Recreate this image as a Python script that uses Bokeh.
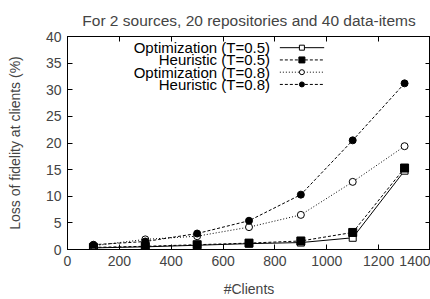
from bokeh.plotting import figure
from bokeh.models import LinearAxis, Range1d, FixedTicker
from bokeh.core.properties import value
from bokeh.embed import file_html
from bokeh.resources import INLINE

# ---- data ----
clients = [100, 300, 500, 700, 900, 1100, 1300]
opt_t05 = [0.3, 0.5, 0.8, 1.1, 1.3, 2.2, 14.8]
heu_t05 = [0.4, 0.6, 0.9, 1.2, 1.6, 3.2, 15.3]
opt_t08 = [0.7, 1.9, 2.5, 4.2, 6.5, 12.7, 19.4]
heu_t08 = [0.9, 1.5, 3.0, 5.4, 10.3, 20.5, 31.2]
series_names = ["Optimization (T=0.5)", "Heuristic (T=0.5)",
                "Optimization (T=0.8)", "Heuristic (T=0.8)"]
x_ticks = [0, 200, 400, 600, 800, 1000, 1200, 1400]
y_ticks = [0, 5, 10, 15, 20, 25, 30, 35, 40]

FONT = "Liberation Sans"

p = figure(width=430, height=299, output_backend="svg", toolbar_location=None,
           x_range=Range1d(0, 1400), y_range=Range1d(0, 40),
           title="For 2 sources, 20 repositories and 40 data-items",
           min_border_left=67, min_border_right=0, min_border_top=36,
           min_border_bottom=49, x_axis_label="#Clients",
           y_axis_label="Loss of fidelity at clients (%)")
p.title.align = "center"
p.title.text_font = FONT
p.title.text_font_size = "15.5px"
p.title.text_font_style = "normal"
p.title.offset = 0
p.title.standoff = 16
p.grid.visible = False
p.outline_line_color = "black"
p.outline_line_width = 1
p.background_fill_color = "white"
p.border_fill_color = "white"

for ax in (p.xaxis[0], p.yaxis[0]):
    ax.axis_line_color = "black"
    ax.major_tick_in = 5
    ax.major_tick_out = 0
    ax.minor_tick_line_color = None
    ax.major_label_text_font = FONT
    ax.major_label_text_font_size = "14px"
    ax.axis_label_text_font = FONT
    ax.axis_label_text_font_size = "14px"
    ax.axis_label_text_font_style = "normal"
p.xaxis[0].ticker = FixedTicker(ticks=x_ticks)
p.yaxis[0].ticker = FixedTicker(ticks=y_ticks)
p.xaxis[0].major_label_standoff = 6
p.xaxis[0].axis_label_standoff = 12
p.yaxis[0].major_label_standoff = 6
p.yaxis[0].axis_label_standoff = 20

# mirrored ticks on top and right
top = LinearAxis(ticker=FixedTicker(ticks=x_ticks), major_tick_in=5, major_tick_out=0,
                 minor_tick_line_color=None, major_label_text_font_size="0px",
                 major_label_standoff=0, major_label_text_alpha=0)
right = LinearAxis(ticker=FixedTicker(ticks=y_ticks), major_tick_in=5, major_tick_out=0,
                   minor_tick_line_color=None, major_label_text_font_size="0px",
                   major_label_standoff=0, major_label_text_alpha=0)
p.add_layout(top, "above")
p.add_layout(right, "right")

# ---- series ----
styles = [
    dict(dash="solid", marker="square", fill="white", size=7),
    dict(dash="3 2", marker="square", fill="black", size=8),
    dict(dash="1 2", marker="circle", fill="white", size=7),
    dict(dash="3 2", marker="circle", fill="black", size=7),
]
series = [opt_t05, heu_t05, opt_t08, heu_t08]

for ys, st in zip(series, styles):
    p.line(clients, ys, line_color="black", line_width=1, line_dash=st["dash"])
    p.scatter(clients, ys, marker=st["marker"], size=st["size"], line_color="black",
              fill_color=st["fill"], line_width=1)

# ---- legend (gnuplot style: text left of sample) ----
leg_text_x = 781
leg_line_x0, leg_line_x1, leg_mark_x = 819, 990, 904
leg_rows = [37.9, 35.6, 33.3, 31.0]
p.text(x=[leg_text_x] * 4, y=leg_rows, text=series_names, text_align="right",
       text_baseline="middle", text_font=value(FONT), text_font_size="15px",
       text_color="black")
for yr, st in zip(leg_rows, styles):
    p.line([leg_line_x0, leg_line_x1], [yr, yr], line_color="black", line_width=1,
           line_dash=st["dash"])
    p.scatter([leg_mark_x], [yr], marker=st["marker"], size=st["size"] - 2,
              line_color="black", fill_color=st["fill"], line_width=1)

open("out.html", "w").write(file_html(p, INLINE))
